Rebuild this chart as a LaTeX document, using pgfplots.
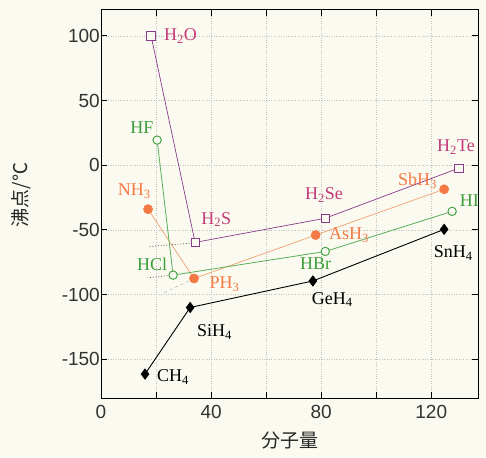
\documentclass[border=0pt]{standalone}
\usepackage{fontspec}
\setmainfont{Liberation Serif}
\setsansfont{Liberation Sans}
\newfontfamily\cjk{Noto Sans CJK JP}
\usepackage{pgfplots}
\pgfplotsset{compat=1.18}
\definecolor{bg}{HTML}{FBFAF0}
\definecolor{purL}{HTML}{8A3A8A}
\definecolor{purT}{HTML}{C23A78}
\definecolor{orM}{HTML}{F47A45}
\definecolor{orL}{HTML}{F2A070}
\definecolor{grM}{HTML}{3A9E3A}
\definecolor{grL}{HTML}{5AAE5A}
\begin{document}
\begin{tikzpicture}[x=1pt,y=1pt, lab/.style={font=\fontsize{18}{20}\selectfont, inner sep=1pt}]
\fill[bg] (-101,-59) rectangle (385,398);
\begin{axis}[at={(0,0)}, anchor=south west, scale only axis,
  width=377pt, height=388pt,
  xmin=0, xmax=137, ymin=-180, ymax=120,
  xtick={0,40,80,120}, minor xtick={20,60,100},
  ytick={-150,-100,-50,0,50,100},
  grid=both, major grid style={gray!50, dotted, line width=0.6pt}, minor grid style={gray!50, dotted, line width=0.6pt},
  tick align=inside, major tick length=6pt, minor tick length=6pt,
  tick style={black, line width=1pt},
  axis line style={line width=1pt},
  /pgf/number format/assume math mode=true,
  ticklabel style={font=\sffamily\fontsize{19}{22}\selectfont, text=black!80},
  yticklabel style={inner xsep=1pt},
  xticklabel style={yshift=-4pt},
  clip=false,
]
% extrapolation lines
\addplot[black!70, dotted, thick] coordinates {(34.2,-60)(17,-63)};
\addplot[black!70, dotted, thick] coordinates {(26.2,-85)(17,-87)};
\addplot[gray!70, dashed, thin] coordinates {(33.8,-87.6)(22.5,-99)};
% group 14
\addplot[black, line width=0.9pt, mark=diamond*, mark size=5pt, mark options={fill=black, solid}]
  coordinates {(16,-161.5)(32.4,-110)(77,-89.5)(124.7,-49.6)};
% group 15
\addplot[orL, line width=0.7pt, mark=*, mark size=4.5pt, mark options={fill=orM, draw=orM}]
  coordinates {(17.1,-34)(33.8,-87.6)(78,-54)(124.7,-18.6)};
% group 17
\addplot[grL, line width=0.8pt, mark=*, mark size=4.2pt, mark options={fill=bg, draw=grM, line width=0.9pt}]
  coordinates {(20.4,19.4)(26.2,-85)(81.5,-66.7)(127.6,-35.7)};
% group 16
\addplot[purL, line width=0.7pt, mark=square*, mark size=4.2pt, mark options={fill=bg, draw=purL, line width=0.8pt}]
  coordinates {(18.2,100)(34.2,-59.7)(81.5,-41)(130,-2.3)};
% labels
\node[lab, purT, anchor=west] at (axis cs:22.5,100) {H\textsubscript{2}O};
\node[lab, purT, anchor=west] at (axis cs:36,-42) {H\textsubscript{2}S};
\node[lab, purT, anchor=center] at (axis cs:81,-23) {H\textsubscript{2}Se};
\node[lab, purT, anchor=center] at (axis cs:129,14) {H\textsubscript{2}Te};
\node[lab, grM, anchor=east] at (axis cs:19.5,29) {HF};
\node[lab, grM, anchor=east] at (axis cs:24.5,-77) {HCl};
\node[lab, grM, anchor=center] at (axis cs:78,-76) {HBr};
\node[lab, grM, anchor=west] at (axis cs:130,-27) {HI};
\node[lab, orM, anchor=east] at (axis cs:18.5,-20) {NH\textsubscript{3}};
\node[lab, orM, anchor=west] at (axis cs:39,-92) {PH\textsubscript{3}};
\node[lab, orM, anchor=west] at (axis cs:82.5,-54) {AsH\textsubscript{3}};
\node[lab, orM, anchor=east] at (axis cs:122.5,-12) {SbH\textsubscript{3}};
\node[lab, black, anchor=west] at (axis cs:20,-164) {CH\textsubscript{4}};
\node[lab, black, anchor=west] at (axis cs:34.5,-129) {SiH\textsubscript{4}};
\node[lab, black, anchor=center] at (axis cs:84,-104) {GeH\textsubscript{4}};
\node[lab, black, anchor=center] at (axis cs:128,-68) {SnH\textsubscript{4}};
% axis labels
\node[font=\cjk\fontsize{19}{21}\selectfont, text=black!85] at ([yshift=-42pt]rel axis cs:0.5,0) {分子量};
\node[font=\cjk\fontsize{19}{21}\selectfont, text=black!85, rotate=90] at ([xshift=-80pt]rel axis cs:0,0.523) {沸点/℃};
\end{axis}
\end{tikzpicture}
\end{document}
